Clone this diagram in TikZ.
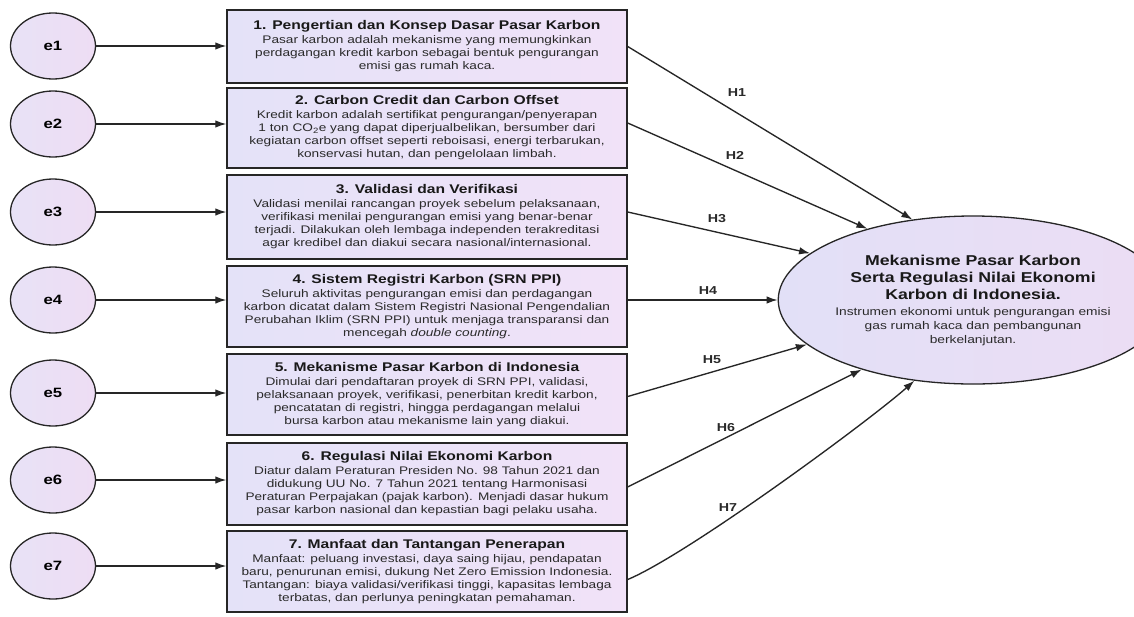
\documentclass[tikz,border=0pt]{standalone}
\usepackage{fontspec}
\setmainfont[FakeStretch=1.24]{Liberation Sans}
\usetikzlibrary{arrows.meta,shapes.geometric,calc}
\definecolor{ln}{HTML}{262626}
\definecolor{txt}{HTML}{2A2A2A}
\definecolor{boxL}{HTML}{E4E2F8}
\definecolor{boxR}{HTML}{F1E2F8}
\definecolor{eL}{HTML}{E8E2F6}
\definecolor{eR}{HTML}{EEDDF4}
\definecolor{bigL}{HTML}{E2E0F7}
\definecolor{bigR}{HTML}{ECDDF4}
\tikzset{
  box/.style={draw=ln, line width=1.4pt, rectangle, minimum width=400pt,
    left color=boxL, right color=boxR, align=center, inner sep=1pt,
    text=txt, font=\fontsize{11}{13}\selectfont},
  err/.style={draw=ln, line width=1.3pt, ellipse, minimum width=85pt, minimum height=66pt,
    left color=eL, right color=eR, inner sep=0pt, font=\fontsize{13.5}{15}\bfseries\selectfont},
  big/.style={draw=ln, line width=1.3pt, ellipse, minimum width=336pt, minimum height=168pt,
    left color=bigL, right color=bigR, inner sep=0pt, align=center, text=txt,
    font=\fontsize{14.3}{17}\selectfont},
  conn/.style={draw=ln, line width=1.35pt, -{Latex[length=11pt,width=7.5pt]}},
  hlab/.style={font=\fontsize{11.5}{13}\bfseries\selectfont, text=txt, inner sep=0pt},
}
\newcommand{\ttl}[1]{{\fontsize{12.6}{15}\bfseries\selectfont\color{black!90}#1}\\[1pt]}
\newcommand{\bigttl}[1]{{\bfseries\color{black!90}#1}}
\newcommand{\bigsub}[1]{{\fontsize{11.1}{14}\selectfont #1}}
\begin{document}
\begin{tikzpicture}[x=1pt,y=-1pt]
\useasboundingbox[fill=white] (0,0) rectangle (1134,616);

% error terms
\node[err] (e1) at (53,46) {e1};
\node[err] (e2) at (53,124) {e2};
\node[err] (e3) at (53,212) {e3};
\node[err] (e4) at (53,300) {e4};
\node[err] (e5) at (53,393) {e5};
\node[err] (e6) at (53,480) {e6};
\node[err] (e7) at (53,566) {e7};

% boxes
\node[box, minimum height=73pt] (b1) at (427,46.5) {\ttl{1. Pengertian dan Konsep Dasar Pasar Karbon}Pasar karbon adalah mekanisme yang memungkinkan\\perdagangan kredit karbon sebagai bentuk pengurangan\\emisi gas rumah kaca.};
\node[box, minimum height=80pt] (b2) at (427,128) {\ttl{2. Carbon Credit dan Carbon Offset}Kredit karbon adalah sertifikat pengurangan/penyerapan\\1 ton CO\textsubscript{2}e yang dapat diperjualbelikan, bersumber dari\\kegiatan carbon offset seperti reboisasi, energi terbarukan,\\konservasi hutan, dan pengelolaan limbah.};
\node[box, minimum height=84pt] (b3) at (427,217) {\ttl{3. Validasi dan Verifikasi}Validasi menilai rancangan proyek sebelum pelaksanaan,\\verifikasi menilai pengurangan emisi yang benar-benar\\terjadi. Dilakukan oleh lembaga independen terakreditasi\\agar kredibel dan diakui secara nasional/internasional.};
\node[box, minimum height=81pt] (b4) at (427,306.5) {\ttl{4. Sistem Registri Karbon (SRN PPI)}Seluruh aktivitas pengurangan emisi dan perdagangan\\karbon dicatat dalam Sistem Registri Nasional Pengendalian\\Perubahan Iklim (SRN PPI) untuk menjaga transparansi dan\\mencegah \textit{double counting}.};
\node[box, minimum height=81pt] (b5) at (427,394.5) {\ttl{5. Mekanisme Pasar Karbon di Indonesia}Dimulai dari pendaftaran proyek di SRN PPI, validasi,\\pelaksanaan proyek, verifikasi, penerbitan kredit karbon,\\pencatatan di registri, hingga perdagangan melalui\\bursa karbon atau mekanisme lain yang diakui.};
\node[box, minimum height=82pt] (b6) at (427,484) {\ttl{6. Regulasi Nilai Ekonomi Karbon}Diatur dalam Peraturan Presiden No. 98 Tahun 2021 dan\\didukung UU No. 7 Tahun 2021 tentang Harmonisasi\\Peraturan Perpajakan (pajak karbon). Menjadi dasar hukum\\pasar karbon nasional dan kepastian bagi pelaku usaha.};
\node[box, minimum height=81pt] (b7) at (427,571.5) {\ttl{7. Manfaat dan Tantangan Penerapan}Manfaat: peluang investasi, daya saing hijau, pendapatan\\baru, penurunan emisi, dukung Net Zero Emission Indonesia.\\Tantangan: biaya validasi/verifikasi tinggi, kapasitas lembaga\\terbatas, dan perlunya peningkatan pemahaman.};

% dependent construct
\node[big] (Y) at (973,300) {\bigttl{Mekanisme Pasar Karbon}\\\bigttl{Serta Regulasi Nilai Ekonomi}\\\bigttl{Karbon di Indonesia.}\\[-1pt]
\bigsub{Instrumen ekonomi untuk pengurangan emisi}\\[-3pt]\bigsub{gas rumah kaca dan pembangunan}\\[-3pt]\bigsub{berkelanjutan.}};

% error arrows
\foreach \i in {1,...,7} {
  \draw[conn] (e\i.east) -- (e\i.east -| b\i.west);
}

% hypothesis arrows
\draw[conn] (b1.east) -- (Y.127);
\draw[conn] ([yshift=5pt]b2.east) -- (Y.146);
\draw[conn] ([yshift=5pt]b3.east) -- (Y.164);
\draw[conn] (b4.east |- Y.west) -- (Y.west);
\draw[conn] ([yshift=-2pt]b5.east) -- (Y.195);
\draw[conn] ([yshift=-3pt]b6.east) -- (Y.212);
\draw[conn] ([yshift=-8pt]b7.east) .. controls +(60,-25) and +(-45,40) .. (Y.234);

% labels
\node[hlab] (h1) at (737,93) {H1};
\node[hlab] (h2) at (735,155) {H2};
\node[hlab] (h3) at (717,219) {H3};
\node[hlab] (h4) at (708,291) {H4};
\node[hlab] (h5) at (712,360) {H5};
\node[hlab] (h6) at (726,428) {H6};
\node[hlab] (h7) at (728,508) {H7};
\end{tikzpicture}
\end{document}
